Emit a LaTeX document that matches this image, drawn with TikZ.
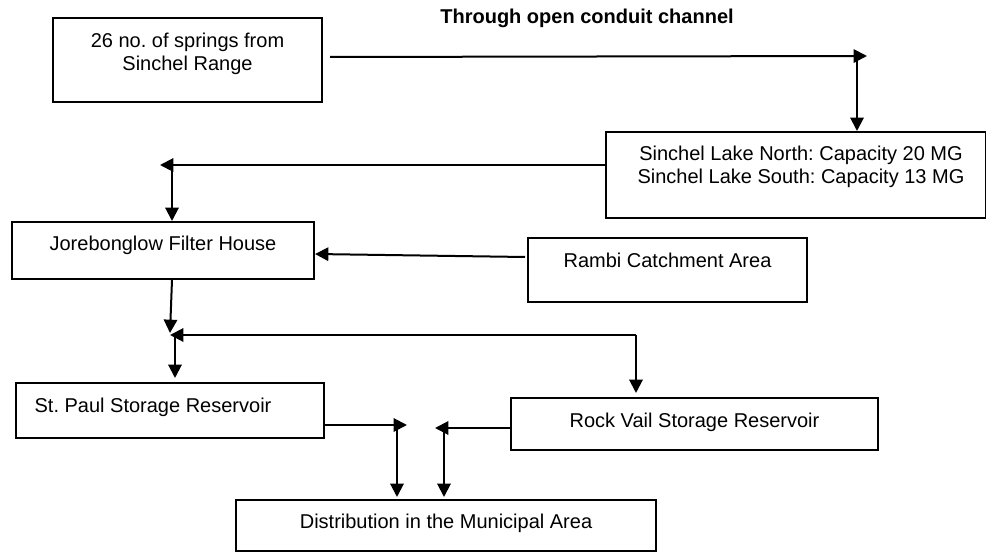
\documentclass[tikz,border=0pt]{standalone}
\usepackage{fontspec}
\setmainfont{Liberation Sans}
\frenchspacing
\usetikzlibrary{arrows.meta,calc}

\begin{document}
\begin{tikzpicture}[x=0.75pt,y=-0.75pt,
		box/.style={draw=black, line width=1.5pt, inner sep=0pt, anchor=north west},
		txt/.style={anchor=north, align=center, inner sep=0pt, font=\fontsize{15pt}{17.25pt}\selectfont},
		flow/.style={black, line width=1.5pt, -{Triangle[length=10pt,width=10pt]}}]
		\useasboundingbox (0,0) rectangle (986,552);

		\node[box, minimum width=201.75pt, minimum height=63pt] (springs) at (52,17) {};
		\node[box, minimum width=285pt, minimum height=64.5pt] (lake) at (605,131) {};
		\node[box, minimum width=226.5pt, minimum height=42.75pt] (filter) at (11,221) {};
		\node[box, minimum width=209.25pt, minimum height=48pt] (rambi) at (527,237) {};
		\node[box, minimum width=231pt, minimum height=41.25pt] (stpaul) at (15,382) {};
		\node[box, minimum width=275.25pt, minimum height=39pt] (rockvail) at (510,397) {};
		\node[box, minimum width=315pt, minimum height=38.25pt] (distrib) at (235,499) {};

		\node[txt] (springstext) at ($(springs.north)+(0,15.5)$) {26 no. of springs from\\Sinchel Range};
		\node[txt] (laketext) at ($(lake.north)+(5,15)$) {Sinchel Lake North: Capacity 20 MG\\Sinchel Lake South: Capacity 13 MG};
		\node[txt] (filtertext) at ($(filter.north)+(0,15)$) {Jorebonglow Filter House};
		\node[txt] (rambitext) at ($(rambi.north)+(0,16)$) {Rambi Catchment Area};
		\node[txt] (stpaultext) at ($(stpaul.north)+(-17,16)$) {St. Paul Storage Reservoir};
		\node[txt] (rockvailtext) at ($(rockvail.north)+(0,16)$) {Rock Vail Storage Reservoir};
		\node[txt] (distribtext) at ($(distrib.north)+(0,15)$) {Distribution in the Municipal Area};
		\node[anchor=base, inner sep=0pt, font=\bfseries\fontsize{15pt}{18pt}\selectfont] (channel) at (587,24) {Through open conduit channel};

		\coordinate (c1) at (867,56);
		\coordinate (c2) at (857,56);
		\coordinate (c3) at (160,165);
		\coordinate (c4) at (172,165);
		\coordinate (c5) at (170,333);
		\coordinate (c6) at (636,335);
		\coordinate (c7) at (170,335);
		\coordinate (c8) at (175,335);
		\coordinate (c9) at (407,425);
		\coordinate (c10) at (397,425);
		\coordinate (c11) at (435,428);
		\coordinate (c12) at (444,428);

		\draw[flow] ($(springs.east)+(7,-3)$) -- (c1);
		\draw[flow] (c2) -- (c2 |- lake.north);
		\draw[flow] (lake.west |- c3) -- (c3);
		\draw[flow] (c4) -- (c4 |- filter.north);
		\draw[flow] ($(rambi.west)+(-2,-13)$) -- ($(filter.east)+(0,3.5)$);
		\draw[flow] (c4 |- filter.south) -- (c5);
		\draw[flow] (c6) -- (c7);
		\draw[flow, shorten >=3pt] (c6) -- (c6 |- rockvail.north);
		\draw[flow, shorten >=3pt] (c8) -- (c8 |- stpaul.north);
		\draw[flow] (stpaul.east |- c9) -- (c9);
		\draw[flow, shorten >=1.5pt] (c10) -- (c10 |- distrib.north);
		\draw[flow] (rockvail.west |- c11) -- (c11);
		\draw[flow, shorten >=1.5pt] (c12) -- (c12 |- distrib.north);

	\end{tikzpicture}
\end{document}
